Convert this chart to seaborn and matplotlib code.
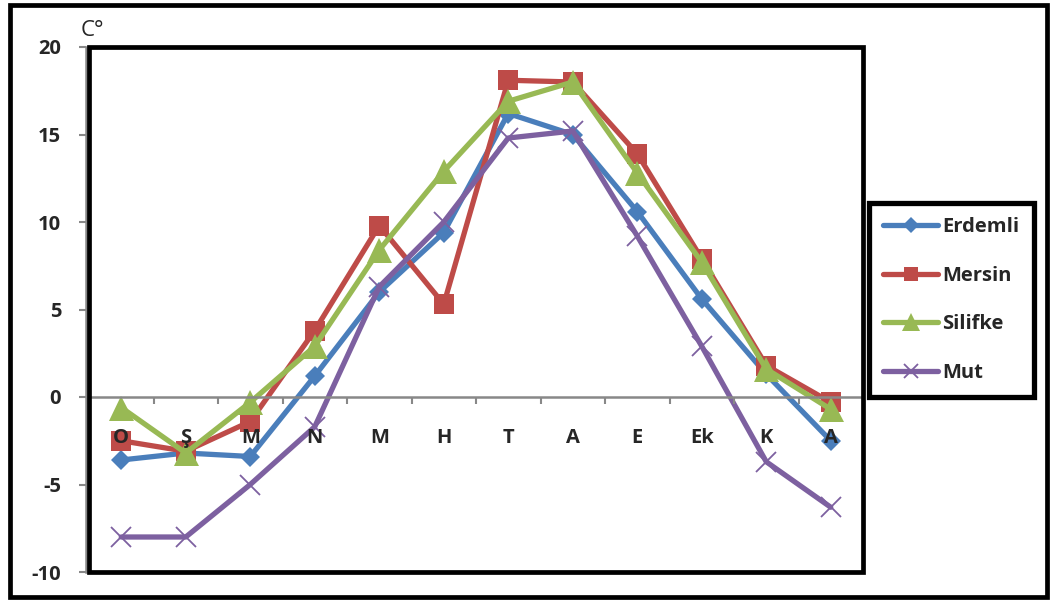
import matplotlib
matplotlib.use("Agg")
import matplotlib.pyplot as plt
from matplotlib.patches import Rectangle
import seaborn as sns
import pandas as pd

# Monthly temperatures (°C), October to September
months = ["O", "Ş", "M", "N", "M", "H", "T", "A", "E", "Ek", "K", "A"]
erdemli = [-3.6, -3.2, -3.4, 1.2, 6.0, 9.4, 16.2, 15.0, 10.6, 5.6, 1.3, -2.5]
mersin = [-2.5, -3.1, -1.4, 3.8, 9.8, 5.3, 18.1, 18.0, 13.9, 7.9, 1.8, -0.3]
silifke = [-0.6, -3.2, -0.3, 2.9, 8.4, 12.9, 16.9, 18.0, 12.8, 7.7, 1.6, -0.7]
mut = [-8.0, -8.0, -5.0, -1.7, 6.3, 10.0, 14.8, 15.2, 9.2, 2.9, -3.7, -6.3]
stations = ["Erdemli", "Mersin", "Silifke", "Mut"]
yticks = [-10, -5, 0, 5, 10, 15, 20]

series = dict(zip(stations, [erdemli, mersin, silifke, mut]))
df = pd.concat(
    [pd.DataFrame({"pos": range(len(months)), "temp": vals, "station": name})
     for name, vals in series.items()],
    ignore_index=True,
)

colors = {"Erdemli": "#4A7EBB", "Mersin": "#BE4B48", "Silifke": "#98B954", "Mut": "#7D60A0"}
style = {
    "Erdemli": dict(marker="D", markersize=10.5, markeredgewidth=0),
    "Mersin": dict(marker="s", markersize=14, markeredgewidth=0),
    "Silifke": dict(marker="^", markersize=18, markeredgewidth=0),
    "Mut": dict(marker="x", markersize=14, markeredgewidth=1.3),
}

sns.set_style("white")
plt.rcParams["font.family"] = ["Open Sans", "DejaVu Sans"]
label_font = {"size": 14.5, "weight": "bold"}

fig = plt.figure(figsize=(10.51, 6.01), dpi=100)
ax = fig.add_axes([89 / 1051, 1 - 572 / 601, (863 - 89) / 1051, (572 - 47) / 601])

for name in stations:
    sub = df[df["station"] == name]
    sns.lineplot(data=sub, x="pos", y="temp", ax=ax, color=colors[name],
                 linewidth=3.8, label=name, sort=False,
                 markeredgecolor=colors[name], markerfacecolor=colors[name],
                 **style[name])

ax.set_xlim(-0.5, len(months) - 0.5)
ax.set_ylim(-10, 20)
ax.set_xlabel("")
ax.set_ylabel("")

# Category axis runs along the zero line
ax.spines["bottom"].set_position(("data", 0))
ax.spines["bottom"].set_color("#888888")
ax.spines["bottom"].set_linewidth(1.8)
ax.spines["left"].set_position(("outward", 2))
ax.spines["left"].set_color("#888888")
ax.spines["left"].set_linewidth(1.8)
ax.spines["top"].set_visible(False)
ax.spines["right"].set_visible(False)

ax.set_xticks(range(len(months)))
ax.set_xticklabels(months, **label_font)
ax.set_xticks([i + 0.5 for i in range(-1, len(months))], minor=True)
ax.tick_params(axis="x", which="major", length=0, pad=22)
ax.tick_params(axis="x", which="minor", direction="out", length=5, width=1.5,
               color="#888888", bottom=True)

ax.set_yticks(yticks)
ax.set_yticklabels([str(v) for v in yticks], **label_font)
ax.tick_params(axis="y", which="major", direction="out", length=5, width=1.5,
               color="#888888", pad=13, left=True)
ax.set_axisbelow(False)
ax.grid(False)

# Plot-area frame
ax.add_patch(Rectangle((0, 0), 1, 1, transform=ax.transAxes, fill=False,
                       edgecolor="black", linewidth=3.4, clip_on=False, zorder=5))

# Unit label
fig.text(81 / 1051, 1 - 30 / 601, "C°", fontsize=16, va="center", ha="left")

# Legend
leg = ax.legend(loc="center left", bbox_to_anchor=(869 / 1051, 1 - 300 / 601),
                bbox_transform=fig.transFigure, frameon=True, fancybox=False,
                framealpha=1, prop=label_font, handlelength=2.75,
                handletextpad=0.2, labelspacing=1.42, borderpad=0.7,
                borderaxespad=0)
leg.get_frame().set_edgecolor("black")
leg.get_frame().set_linewidth(3.8)
for h in leg.legend_handles:
    h.set_markersize(h.get_markersize() * 0.75)

# Outer chart border
fig.add_artist(Rectangle((10 / 1051, 4 / 601), (1047 - 10) / 1051, (596 - 4) / 601,
                         transform=fig.transFigure, fill=False,
                         edgecolor="black", linewidth=3.4))

fig.savefig("out.png", dpi=100)
